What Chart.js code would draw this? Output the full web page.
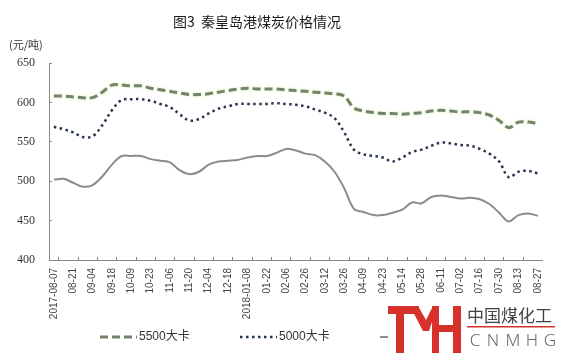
<!DOCTYPE html>
<html><head><meta charset="utf-8">
<script src="https://cdn.jsdelivr.net/npm/chart.js@4"></script>
<style>html,body{margin:0;padding:0;background:#fff;}canvas{display:block;}</style>
</head><body>
<canvas id="c" width="561" height="357"></canvas>
<script>
// ---- data ----
const categories = ['2017-08-07','08-14','08-21','08-28','09-04','09-11','09-18','09-25','10-09','10-16',
  '10-23','10-30','11-06','11-13','11-20','11-27','12-04','12-11','12-18','12-25',
  '2018-01-08','01-15','01-22','01-29','02-06','02-12','02-26','03-05','03-12','03-19',
  '03-26','04-02','04-09','04-16','04-23','05-02','05-14','05-21','05-28','06-04',
  '06-11','06-25','07-02','07-09','07-16','07-23','07-30','08-06','08-13','08-20','08-27'];
const series5500 = [608,608,607,606,606,613,622,622,621,621,618,616,614,612,610,610,611,613,615,617,
  618,617,617,617,616,615,614,613,612,611,608,593,589,587,586,586,585,586,587,589,
  590,589,588,588,587,584,577,568,575,575,573];
const series5000 = [569,566,562,556,557,571,590,603,604,604,602,598,594,585,577,579,586,592,595,598,
  598,598,598,599,598,597,595,591,587,580,562,540,534,532,530,525,530,537,540,545,
  549,548,546,545,541,535,525,505,512,513,510];
const series4500 = [502,503,498,493,495,506,521,532,532,532,528,526,524,514,509,512,521,525,526,527,
  530,532,532,536,541,539,535,533,525,512,491,465,461,457,457,460,464,473,472,480,
  482,480,478,479,477,471,460,449,457,459,456];
const seriesNames = ['5500大卡','5000大卡','4500大卡'];
const yMin = 400, yMax = 650, yStep = 50;
const titleText = '图3  秦皇岛港煤炭价格情况';
const unitText = '(元/吨)';

const glowPlugin = {
  id: 'glow',
  beforeDatasetDraw(chart, args) {
    if (args.index === 0) {
      chart.ctx.save();
      chart.ctx.shadowColor = 'rgba(205,235,140,0.7)';
      chart.ctx.shadowBlur = 3;
    }
  },
  afterDatasetDraw(chart, args) {
    if (args.index === 0) chart.ctx.restore();
  }
};

const textPlugin = {
  id: 'texts',
  afterDraw(chart) {
    const ctx = chart.ctx;
    ctx.save();
    ctx.fillStyle = '#1a1a1a';
    ctx.font = '14px "Noto Sans CJK SC"';
    ctx.textAlign = 'center';
    ctx.textBaseline = 'middle';
    ctx.fillText(titleText, 257, 22);
    ctx.font = '11px "Noto Sans CJK SC"';
    ctx.textAlign = 'left';
    ctx.fillStyle = '#333';
    ctx.fillText(unitText, 9, 45);
    // legend
    const legendX = [100, 240, 380];
    chart.data.datasets.forEach((ds, i) => {
      const x = legendX[i], y = 337;
      ctx.strokeStyle = ds.borderColor;
      ctx.lineWidth = ds.borderWidth;
      ctx.setLineDash(ds.borderDash || []);
      ctx.beginPath(); ctx.moveTo(x, y); ctx.lineTo(x + 37, y); ctx.stroke();
      ctx.setLineDash([]);
      ctx.fillStyle = '#333';
      ctx.font = '12px "Liberation Sans","Noto Sans CJK SC"';
      ctx.textBaseline = 'middle';
      ctx.textAlign = 'left';
      ctx.fillText(ds.label, x + 39, y);
    });
    // watermark logo
    ctx.fillStyle = '#fff';
    ctx.fillRect(388, 299, 173, 58);
    ctx.fillStyle = '#d7312b';
    ctx.fillRect(388, 306, 31, 8);
    ctx.fillRect(396, 306, 8, 47);
    ctx.beginPath();
    ctx.moveTo(410, 306); ctx.lineTo(418, 306); ctx.lineTo(426, 320); ctx.lineTo(432, 308);
    ctx.lineTo(432, 322); ctx.lineTo(429, 331); ctx.lineTo(423, 331); ctx.closePath(); ctx.fill();
    ctx.fillRect(432, 306, 7, 47);
    ctx.fillRect(453, 306, 8, 47);
    ctx.fillRect(439, 325, 14, 7);
    ctx.fillStyle = '#444';
    ctx.font = '17px "Noto Sans CJK SC"';
    ctx.textBaseline = 'middle';
    ctx.fillText('中国煤化工', 467, 316);
    ctx.fillStyle = '#d7312b';
    ctx.fillRect(467, 326, 88, 1.5);
    ctx.fillStyle = '#666';
    ctx.font = '300 17px "Noto Sans","Liberation Sans"';
    ctx.textAlign = 'center';
    const letters = ['C','N','M','H','G'], lx = [475, 493, 513, 532, 550];
    letters.forEach((l, i) => ctx.fillText(l, lx[i], 341));
    ctx.restore();
  }
};

new Chart(document.getElementById('c'), {
  type: 'line',
  data: {
    labels: categories,
    datasets: [
      { label: seriesNames[0], data: series5500, borderColor: '#74846a', borderWidth: 3, borderDash: [8, 4],
        tension: 0.35, pointRadius: 0, fill: false },
      { label: seriesNames[1], data: series5000, borderColor: '#27344e', borderWidth: 2.5, borderDash: [2.5, 3.5],
        tension: 0.35, pointRadius: 0, fill: false },
      { label: seriesNames[2], data: series4500, borderColor: '#8c8c8c', borderWidth: 2,
        tension: 0.35, pointRadius: 0, fill: false }
    ]
  },
  options: {
    responsive: false,
    animation: false,
    devicePixelRatio: 1,
    layout: { padding: { top: 63, right: 18, left: 0, bottom: 0 } },
    plugins: { legend: { display: false }, title: { display: false }, tooltip: { enabled: false } },
    scales: {
      x: {
        type: 'category',
        offset: true,
        grid: {
          display: true, drawOnChartArea: false, drawTicks: true, tickLength: -3, offset: true,
          color: (c) => (c.index % 2 === 1 ? '#888' : 'rgba(0,0,0,0)'), lineWidth: 1
        },
        border: { display: true, color: '#888', width: 1 },
        ticks: {
          autoSkip: false, maxRotation: 90, minRotation: 90, padding: 11, color: '#444',
          font: { family: 'Liberation Sans', size: 10 },
          callback: function (v, i) { return i % 2 === 0 ? this.getLabelForValue(v) : ''; }
        },
        afterFit(s) { s.height = 97; }
      },
      y: {
        min: yMin, max: yMax,
        ticks: { stepSize: yStep, padding: 17, color: '#333', font: { family: 'Liberation Serif', size: 12 } },
        grid: { drawOnChartArea: false, drawTicks: true, tickLength: -3, color: '#888' },
        border: { display: true, color: '#888', width: 1 },
        afterFit(s) { s.width = 49; }
      }
    }
  },
  plugins: [glowPlugin, textPlugin]
});
</script>
</body></html>
